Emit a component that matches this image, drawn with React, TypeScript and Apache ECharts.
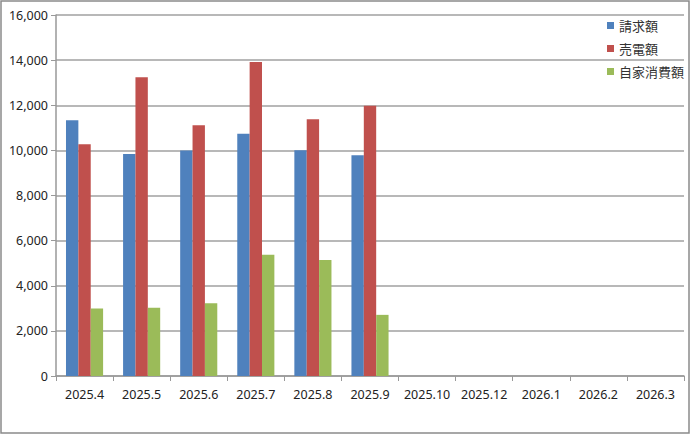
import React, { useEffect, useRef } from "react";
import * as echarts from "echarts";

const categories = ["2025.4", "2025.5", "2025.6", "2025.7", "2025.8", "2025.9", "2025.10", "2025.12", "2026.1", "2026.2", "2026.3"];
const billing = [11330, 9840, 9990, 10740, 10010, 9780, null, null, null, null, null];
const sales = [10270, 13240, 11110, 13920, 11380, 11980, null, null, null, null, null];
const selfUse = [2990, 3020, 3220, 5370, 5140, 2710, null, null, null, null, null];
const seriesNames = ["請求額", "売電額", "自家消費額"];
const colors = ["#4F81BD", "#C0504D", "#9BBB59"];

export default function App() {
  const ref = useRef<HTMLDivElement>(null);
  useEffect(() => {
    const chart = echarts.init(ref.current!, null, { renderer: "svg" });
    const font = "'Noto Sans', 'Noto Sans CJK JP', sans-serif";
    const mk = (name: string, data: any[], color: string) => ({
      name,
      type: "bar",
      data,
      barGap: "0%",
      barCategoryGap: "35%",
      itemStyle: { color },
    });
    chart.setOption({
      animation: false,
      backgroundColor: "#ffffff",
      textStyle: { fontFamily: font },
      grid: { left: 56, right: 7, top: 15, bottom: 59 },
      legend: {
        orient: "vertical",
        left: 602,
        top: 14,
        itemWidth: 7,
        itemHeight: 7,
        itemGap: 10,
        icon: "rect",
        textStyle: { fontSize: 13, color: "#333", fontFamily: font },
        data: seriesNames,
      },
      graphic: [
        {
          type: "rect",
          shape: { x: 1, y: 1, width: 688, height: 432 },
          style: { fill: "none", stroke: "#8a8a8a", lineWidth: 1.5 },
          silent: true,
        },
      ],
      xAxis: {
        type: "category",
        data: categories,
        axisLine: { lineStyle: { color: "#999", width: 1.5 } },
        axisTick: { show: true, alignWithLabel: false, length: 5, lineStyle: { color: "#999" } },
        axisLabel: { color: "#222", fontSize: 12.5, margin: 12, fontFamily: font, interval: 0 },
      },
      yAxis: {
        type: "value",
        min: 0,
        max: 16000,
        interval: 2000,
        axisLine: { show: true, lineStyle: { color: "#999", width: 1.5 } },
        axisTick: { show: true, length: 5, lineStyle: { color: "#999" } },
        splitLine: { lineStyle: { color: "#a0a0a0", width: 1.5 } },
        axisLabel: {
          color: "#222",
          fontSize: 12.5,
          margin: 8,
          fontFamily: font,
          formatter: (v: number) => v.toLocaleString("en-US"),
        },
      },
      series: [
        mk(seriesNames[0], billing, colors[0]),
        mk(seriesNames[1], sales, colors[1]),
        mk(seriesNames[2], selfUse, colors[2]),
      ],
    });
    return () => chart.dispose();
  }, []);
  return <div ref={ref} style={{ position: "fixed", left: 0, top: 0, width: 691, height: 435 }} />;
}
